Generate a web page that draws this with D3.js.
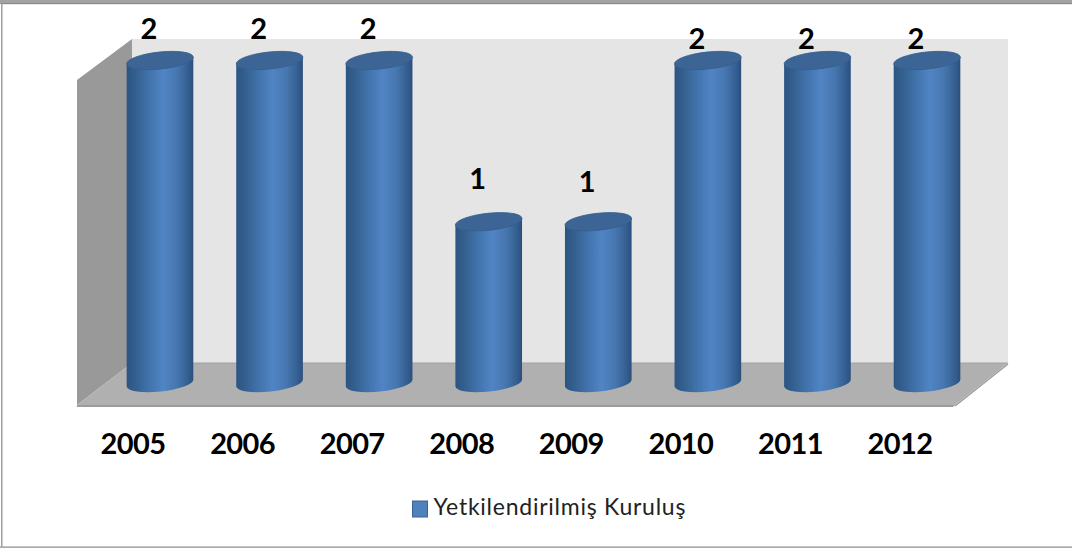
<!DOCTYPE html>
<html>
<head>
<meta charset="utf-8">
<script src="https://cdn.jsdelivr.net/npm/d3@7"></script>
<style>
  html, body { margin: 0; padding: 0; background: #fff; }
  svg { display: block; }
  text { font-family: Lato, "Open Sans", sans-serif; }
</style>
</head>
<body>
<div id="chart"></div>
<script>
  const years = ["2005", "2006", "2007", "2008", "2009", "2010", "2011", "2012"];
  const values = [2, 2, 2, 1, 1, 2, 2, 2];
  const seriesName = "Yetkilendirilmiş Kuruluş";

  var width = 1072,
      height = 548;

  var svg = d3.select("#chart").append("svg")
      .attr("width", width)
      .attr("height", height);

  var x = d3.scaleBand()
      .domain(years)
      .range([105.2, 981.8]);

  var y = d3.scaleLinear()
      .domain([0, 2])
      .range([383, 60.5]);

  var rx = 33.5, ry = 8.5, tilt = -6;
  var dx = rx * Math.cos(tilt * Math.PI / 180),
      dy = rx * Math.sin(tilt * Math.PI / 180);

  // gradient for the cylinder side
  var defs = svg.append("defs");
  var side = defs.append("linearGradient")
      .attr("id", "cyl-side")
      .attr("x1", 0).attr("x2", 1).attr("y1", 0).attr("y2", 0);
  [[0, "#2b5482"], [0.14, "#34608f"], [0.35, "#4274ad"], [0.55, "#5084c4"], [0.75, "#4777b0"], [0.93, "#335d8f"], [1, "#2b4f7c"]]
    .forEach(d => side.append("stop").attr("offset", d[0]).attr("stop-color", d[1]));

  // chart frame
  svg.append("rect")
      .attr("x", 1).attr("y", 2)
      .attr("width", 1.5).attr("height", height - 2)
      .attr("fill", "#a0a0a0");
  svg.append("rect")
      .attr("y", height - 1.7)
      .attr("width", width).attr("height", 1.7)
      .attr("fill", "#ababab");
  svg.append("rect")
      .attr("width", width).attr("height", 4)
      .attr("fill", "#a3a3a3");
  svg.append("rect")
      .attr("y", 3).attr("x", 1)
      .attr("width", width).attr("height", 1.2)
      .attr("fill", "#8c8c8c");

  // 3d walls
  var walls = svg.append("g");
  walls.append("polygon")
      .attr("points", "132,39 1008,39 1008,363 132,363")
      .attr("fill", "#e5e5e5");
  walls.append("polygon")
      .attr("points", "77,80 132,39 132,363 77,405")
      .attr("fill", "#999999");
  walls.append("polygon")
      .attr("points", "77,405 132,363 1008,363 955,405")
      .attr("fill", "#b0b0b0");
  walls.append("polygon")
      .attr("points", "77,405 955,405 953,407 77,407")
      .attr("fill", "#9b9b9b");
  walls.append("line")
      .attr("x1", 132).attr("y1", 363).attr("x2", 1008).attr("y2", 363)
      .attr("stroke", "#a2a2a2");
  walls.append("line")
      .attr("x1", 1008).attr("y1", 364).attr("x2", 955).attr("y2", 406)
      .attr("stroke", "#9b9b9b").attr("stroke-width", 1.5);

  // cylinders
  var cyl = svg.append("g")
    .selectAll("g")
    .data(years.map((d, i) => ({year: d, value: values[i]})))
    .join("g")
      .attr("transform", d => `translate(${x(d.year) + x.bandwidth() / 2},0)`);

  cyl.append("path")
      .attr("fill", "url(#cyl-side)")
      .attr("d", d => `M${-dx},${y(d.value) - dy}
        L${-dx},${y(0) - dy}
        A${rx},${ry} ${tilt} 0 0 ${dx},${y(0) + dy}
        L${dx},${y(d.value) + dy}Z`);

  cyl.append("ellipse")
      .attr("cx", 0)
      .attr("cy", d => y(d.value))
      .attr("rx", rx)
      .attr("ry", ry)
      .attr("transform", d => `rotate(${tilt} 0 ${y(d.value)})`)
      .attr("fill", "#3c6596")
      .attr("stroke", "#34608f")
      .attr("stroke-width", 0.8);

  // value labels sit slightly off the bars, same as the original chart
  const labelX = -11;
  const labelY = [29, 29, 29, 179, 182, 39, 39, 39];
  svg.append("g")
    .selectAll("text")
    .data(values)
    .join("text")
      .attr("x", (d, i) => x(years[i]) + x.bandwidth() / 2 + labelX)
      .attr("y", (d, i) => labelY[i] + 10)
      .attr("text-anchor", "middle")
      .attr("font-size", "29px")
      .attr("font-weight", "bold")
      .attr("fill", "#000")
      .text(d => d);

  // year axis, shifted to the front edge of the floor
  var xAxis = d3.axisBottom(x).tickSize(0).tickPadding(0);
  svg.append("g")
      .attr("transform", "translate(-27,433)")
      .call(xAxis)
      .call(g => g.select(".domain").remove())
      .call(g => g.selectAll("text")
        .attr("font-size", "29px")
        .attr("font-weight", "bold")
        .attr("letter-spacing", "-0.6px")
        .attr("fill", "#000")
        .attr("font-family", "Lato"));

  // legend
  var legend = svg.append("g");
  legend.append("rect")
      .attr("x", 412.5).attr("y", 501)
      .attr("width", 15).attr("height", 16)
      .attr("fill", "#4f81bd")
      .attr("stroke", "#3a6391");
  legend.append("text")
      .attr("x", 433.5)
      .attr("y", 515)
      .attr("font-size", "23px")
      .attr("letter-spacing", "0.75px")
      .attr("fill", "#222")
      .text(seriesName);
</script>
</body>
</html>
